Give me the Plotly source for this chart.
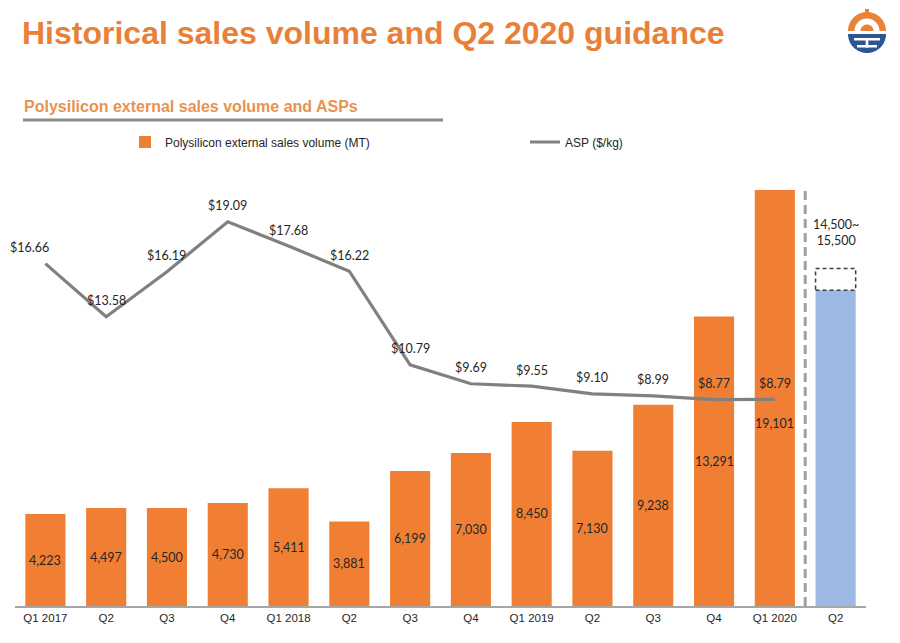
import math
import plotly.graph_objects as go

# ---------------- data ----------------
quarters = ["Q1 2017", "Q2", "Q3", "Q4", "Q1 2018", "Q2", "Q3", "Q4",
            "Q1 2019", "Q2", "Q3", "Q4", "Q1 2020", "Q2"]
volume = [4223, 4497, 4500, 4730, 5411, 3881, 6199, 7030, 8450, 7130, 9238, 13291, 19101]
asp = [16.66, 13.58, 16.19, 19.09, 17.68, 16.22, 10.79, 9.69, 9.55, 9.10, 8.99, 8.77, 8.79]
guidance_low = 14500
guidance_high = 15500

# ---------------- style ----------------
ORANGE = "#F07F34"
TITLE_ORANGE = "#EA8038"
BLUE_BAR = "#9BB9E3"
GRAY_LINE = "#808080"
TEXT = "#262626"
LABEL_FONT = "Lato"

OFF = 8                      # page body margin
W, H = 900 - OFF, 643 - OFF
L, R, T, B = 7, 34, 157, 37
PW, PH = W - L - R, H - T - B


def px2x(px):
    return (px - OFF - L) / PW


def py2y(py):
    return (H - B - (py - OFF)) / PH


hist_x = list(range(len(volume)))
guid_x = len(volume)

fig = go.Figure()

fig.add_trace(go.Bar(
    x=hist_x, y=volume, name="Polysilicon external sales volume (MT)",
    marker=dict(color=ORANGE, line=dict(width=0)), width=0.66,
    legend="legend",
))
fig.add_trace(go.Bar(
    x=[guid_x], y=[guidance_low], showlegend=False,
    marker=dict(color=BLUE_BAR, line=dict(width=0)), width=0.66,
))
fig.add_trace(go.Scatter(
    x=hist_x, y=asp, yaxis="y2", mode="lines", name="ASP ($/kg)",
    line=dict(color=GRAY_LINE, width=3.2),
    legend="legend2",
))

label_font = dict(family=LABEL_FONT, size=12.5, color=TEXT)
annotations = []
# bar value labels
for i, v in enumerate(volume):
    annotations.append(dict(
        x=i, y=v / 2, xref="x", yref="y", text=f"{v:,}", showarrow=False,
        yshift=-26 if i == len(volume) - 1 else 0, font=label_font,
    ))
# ASP labels
for i, v in enumerate(asp):
    annotations.append(dict(
        x=i, y=v, xref="x", yref="y2", text=f"${v:.2f}", showarrow=False,
        yshift=16, xshift=-16 if i == 0 else 0, font=label_font,
    ))
# guidance label
annotations.append(dict(
    x=guid_x, y=guidance_high, xref="x", yref="y",
    text=f"{guidance_low:,}~<br>{guidance_high:,}", showarrow=False,
    yanchor="bottom", yshift=18, font=label_font,
))
# subtitle
annotations.append(dict(
    x=px2x(22), y=py2y(107), xref="paper", yref="paper", xanchor="left", yanchor="middle",
    text="<b>Polysilicon external sales volume and ASPs</b>", showarrow=False,
    font=dict(family="Liberation Sans, Arial", size=16, color="#E8924F"),
))

shapes = []
shapes.append(dict(type="line", xref="paper", yref="paper",
                   x0=px2x(23), x1=px2x(443), y0=py2y(120), y1=py2y(120),
                   line=dict(color="#8C8C8C", width=3)))
shapes.append(dict(type="line", xref="x", yref="y",
                   x0=guid_x - 0.5, x1=guid_x - 0.5, y0=0, y1=max(volume),
                   line=dict(color="#A0A0A0", width=3, dash="9px,5px")))
shapes.append(dict(type="rect", xref="x", yref="y",
                   x0=guid_x - 0.33, x1=guid_x + 0.33, y0=guidance_low, y1=guidance_high,
                   line=dict(color="#404040", width=1.5, dash="4px,3px"),
                   fillcolor="rgba(255,255,255,0)"))


# ---- logo (decorative) ----
def poly(points, color):
    d = "M " + " L ".join(f"{px2x(a):.5f},{py2y(b):.5f}" for a, b in points) + " Z"
    shapes.append(dict(type="path", xref="paper", yref="paper", path=d,
                       fillcolor=color, line=dict(width=0), layer="above"))


def half_disc(cx, cy, r, top=True, n=40):
    pts = []
    for k in range(n + 1):
        a = math.pi * k / n
        pts.append((cx + r * math.cos(a), cy - r * math.sin(a) if top else cy + r * math.sin(a)))
    return pts


LOGO_O = "#E8833A"
LOGO_B = "#2B5597"
cx, cy = 867, 31
poly(half_disc(cx, cy, 19, True), LOGO_O)
poly(half_disc(cx, cy, 12.5, True), "#FFFFFF")
poly(half_disc(cx, cy, 6.5, True), LOGO_O)
poly([(cx - 2, cy - 22), (cx + 2, cy - 22), (cx + 2, cy - 17), (cx - 2, cy - 17)], LOGO_O)
poly(half_disc(cx, cy + 3, 19, False), LOGO_B)
poly([(cx - 13, cy + 7), (cx + 13, cy + 7), (cx + 13, cy + 9.5), (cx - 13, cy + 9.5)], "#FFFFFF")
poly([(cx - 10, cy + 14), (cx + 10, cy + 14), (cx + 10, cy + 16.5), (cx - 10, cy + 16.5)], "#FFFFFF")
poly([(cx - 1.3, cy + 7), (cx + 1.3, cy + 7), (cx + 1.3, cy + 16.5), (cx - 1.3, cy + 16.5)], "#FFFFFF")

legend_font = dict(family="Liberation Sans, Arial", size=12, color=TEXT)

fig.update_layout(
    width=W, height=H,
    margin=dict(l=L, r=R, t=T, b=B, autoexpand=False),
    paper_bgcolor="white", plot_bgcolor="white",
    title=dict(text="<b>Historical sales volume and Q2 2020 guidance</b>",
               x=(22 - OFF) / W, xanchor="left", xref="container",
               y=1 - (33 - OFF) / H, yanchor="middle", yref="container",
               font=dict(family="Liberation Sans, Arial", size=32, color=TITLE_ORANGE)),
    barmode="overlay",
    showlegend=True,
    legend=dict(orientation="h", x=px2x(125), xanchor="left", y=py2y(142), yanchor="middle",
                font=legend_font, bgcolor="rgba(0,0,0,0)"),
    legend2=dict(orientation="h", x=px2x(525), xanchor="left", y=py2y(142), yanchor="middle",
                 font=legend_font, bgcolor="rgba(0,0,0,0)"),
    xaxis=dict(range=[-0.5, len(quarters) - 0.5], tickmode="array",
               tickvals=list(range(len(quarters))), ticktext=quarters,
               showgrid=False, zeroline=False, showline=True,
               linecolor="#A6A6A6", linewidth=1.5, ticks="",
               tickfont=dict(family="Liberation Sans, Arial", size=11.5, color=TEXT)),
    yaxis=dict(range=[0, 20248], visible=False, showgrid=False, zeroline=False),
    yaxis2=dict(range=[-3.2, 22.38], overlaying="y", visible=False,
                showgrid=False, zeroline=False),
    annotations=annotations,
    shapes=shapes,
)

fig.write_html("out.html")
